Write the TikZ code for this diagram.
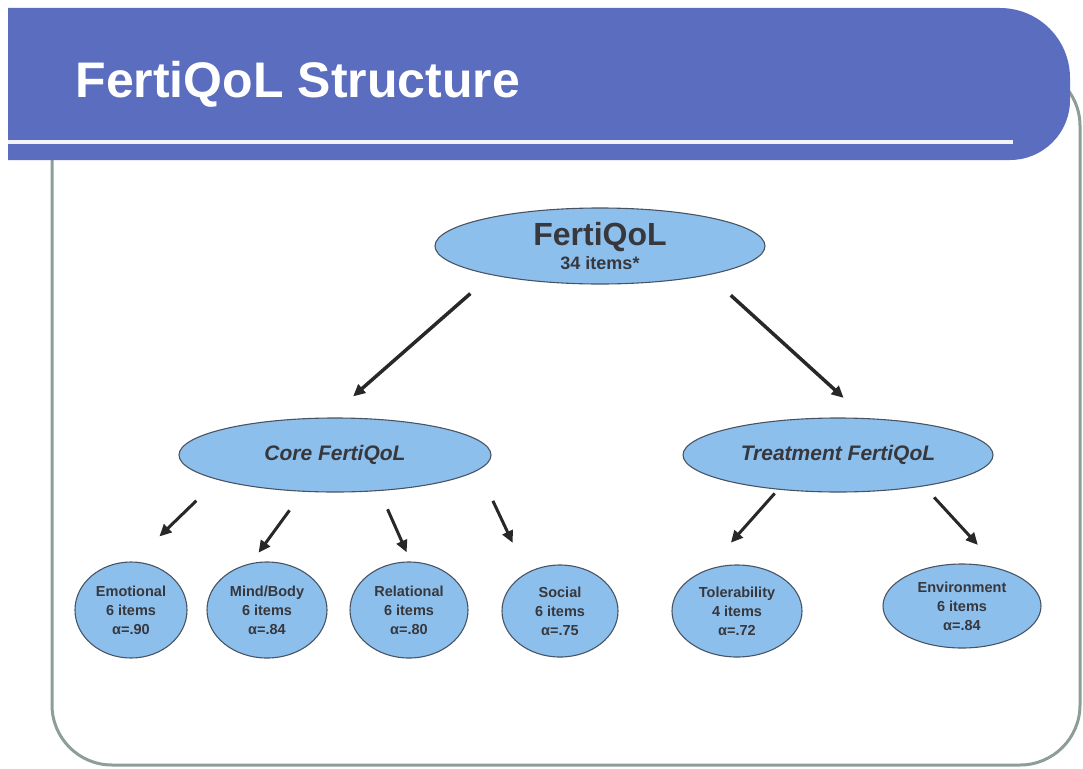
\documentclass[tikz,border=0pt]{standalone}
\usepackage{fontspec}
\setmainfont{Liberation Sans}
\usepackage{tikz}
\usetikzlibrary{arrows.meta,shapes.geometric}
\definecolor{banner}{RGB}{90,109,191}
\definecolor{ovalfill}{RGB}{141,191,236}
\definecolor{ovaldraw}{RGB}{72,84,100}
\definecolor{framecol}{RGB}{140,158,150}
\definecolor{txt}{RGB}{55,55,60}
\definecolor{arrcol}{RGB}{40,40,40}

\begin{document}
\begin{tikzpicture}[x=1pt,y=-1pt,>={Triangle[length=12pt,width=11pt]},
  oval/.style={ellipse,draw=ovaldraw,fill=ovalfill,line width=1.1pt,inner sep=0pt,align=center,text=txt},
  leaf/.style={oval,font=\fontsize{14.5}{19}\selectfont\bfseries},
  mid/.style={oval,minimum width=312pt,minimum height=74pt,font=\fontsize{21}{24}\selectfont\bfseries\itshape},
  arr/.style={->,draw=arrcol,line width=3pt}]
  \useasboundingbox (0,0) rectangle (1083,768);
  % frame and title banner
  \draw[framecol,line width=3pt,rounded corners=60pt] (52,66) rectangle (1080,765);
  \fill[banner] (8,8) -- (1000,8) arc[start angle=90,end angle=0,radius=70pt]
    -- (1070,100) arc[start angle=0,end angle=-90,radius=60pt] -- (8,160) -- cycle;
  \draw[white!92!banner,line width=4pt] (8,142) -- (1013,142);
  \node[anchor=base west,text=white,font=\fontsize{50}{54}\selectfont\bfseries] (title) at (72,97) {FertiQoL Structure};
  % tree
  \node[oval,minimum width=330pt,minimum height=76pt] (top) at (600,246)
    {{\fontsize{32}{34}\selectfont\bfseries FertiQoL}\\[4pt]{\fontsize{18}{20}\selectfont\bfseries 34 items*}};
  \node[mid] (core) at (335,455) {Core FertiQoL};
  \node[mid,minimum width=310pt] (treat) at (838,455) {Treatment FertiQoL};
  \node[leaf,minimum width=112pt,minimum height=96pt] (emo) at (131,610) {Emotional\\6 items\\α=.90};
  \node[leaf,minimum width=120pt,minimum height=96pt] (mind) at (267,610) {Mind/Body\\6 items\\α=.84};
  \node[leaf,minimum width=118pt,minimum height=96pt] (rel) at (409,610) {Relational\\6 items\\α=.80};
  \node[leaf,minimum width=116pt,minimum height=92pt] (soc) at (560,611) {Social\\6 items\\α=.75};
  \node[leaf,minimum width=130pt,minimum height=92pt] (tol) at (737,611) {Tolerability\\4 items\\α=.72};
  \node[leaf,minimum width=158pt,minimum height=84pt] (env) at (962,606) {Environment\\6 items\\α=.84};
  % connectors
  \draw[arr,line width=3.5pt,shorten <=28pt,shorten >=32pt] (top.195) -- (core.99);
  \draw[arr,line width=3.5pt,shorten <=30pt,shorten >=30pt] (top.345) -- (treat.53);
  \draw[arr,shorten <=30pt,shorten >=36pt] (core.192) -- (emo.87);
  \draw[arr,shorten <=23pt,shorten >=13pt] (core.229) -- (mind.109);
  \draw[arr,shorten <=20pt,shorten >=10pt] (core.321) -- (rel.88);
  \draw[arr,shorten <=34pt,shorten >=33pt] (core.354) -- (soc.131);
  \draw[arr,shorten <=5pt,shorten >=36pt] (treat.210) -- (tol.126);
  \draw[arr,shorten <=15pt,shorten >=32pt] (treat.340) -- (env.45);
\end{tikzpicture}
\end{document}
